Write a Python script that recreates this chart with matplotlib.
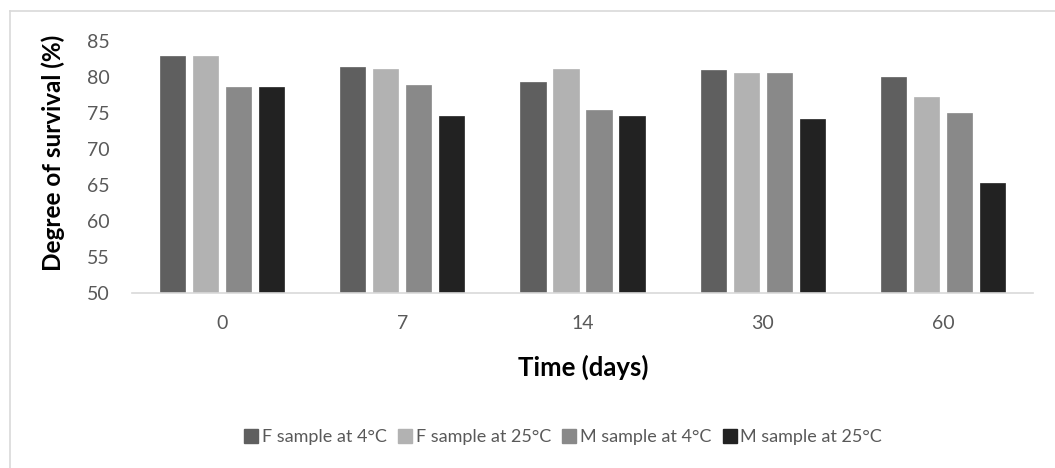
import matplotlib
matplotlib.use("Agg")
import matplotlib.pyplot as plt
import numpy as np
from matplotlib.lines import Line2D

plt.rcParams['font.family'] = ['Lato', 'DejaVu Sans']

days = ["0", "7", "14", "30", "60"]
series_names = ["F sample at 4°C", "F sample at 25°C", "M sample at 4°C", "M sample at 25°C"]
f_4 = [83.0, 81.4, 79.3, 81.0, 80.1]
f_25 = [83.0, 81.2, 81.1, 80.6, 77.3]
m_4 = [78.6, 78.9, 75.5, 80.6, 75.0]
m_25 = [78.6, 74.6, 74.6, 74.2, 65.3]
values = [f_4, f_25, m_4, m_25]
colors = ["#5f5f5f", "#b2b2b2", "#898989", "#222222"]

fig = plt.figure(figsize=(10.55, 4.68), dpi=100)
ax = fig.add_axes([132/1055, 1-293/468, (1033-132)/1055, (293-41.4)/468])

x = np.arange(len(days))
width = 0.14
pitch = 0.183
for i, (vals, c, name) in enumerate(zip(values, colors, series_names)):
    ax.bar(x + (i - 1.5) * pitch, np.array(vals) - 50, bottom=50, width=width,
           color=c, edgecolor=c, linewidth=0.5, label=name, zorder=2)

ax.set_xlim(-0.5, len(days) - 0.5)
ax.set_ylim(50, 85)
ax.set_yticks(np.arange(50, 86, 5))
ax.set_xticks(x)
ax.set_xticklabels(days)
ax.tick_params(axis='both', length=0, labelsize=14, labelcolor="#595959")
ax.tick_params(axis='x', pad=16)
ax.tick_params(axis='y', pad=16)
for s in ['top', 'right', 'left']:
    ax.spines[s].set_visible(False)
ax.spines['bottom'].set_color("#d9d9d9")
ax.spines['bottom'].set_linewidth(1.2)

ax.set_ylabel("Degree of survival (%)", fontsize=17.5, fontweight='bold', color="black", va='center')
ax.yaxis.set_label_coords(-0.0877, 0.558)
ax.set_xlabel("Time (days)", fontsize=18.5, fontweight='bold', color="black", va='center')
ax.xaxis.set_label_coords(0.501, -0.294)

handles = [Line2D([0], [0], marker='s', linestyle='none', markersize=9.5,
                  markerfacecolor=c, markeredgecolor=c) for c in colors]
fig.legend(handles, series_names, loc='center', bbox_to_anchor=(0.533, 1-437/468), ncol=4,
           frameon=False, fontsize=13, labelcolor="#595959", handletextpad=0.1,
           columnspacing=0.5, handlelength=1.0)

# outer border
fig.add_artist(Line2D([10/1055, 1.0], [1-11/468, 1-11/468], color="#d9d9d9", lw=1.2, transform=fig.transFigure))
fig.add_artist(Line2D([10/1055, 10/1055], [0, 1-11/468], color="#d9d9d9", lw=1.2, transform=fig.transFigure))

fig.savefig("out.png", dpi=100)
